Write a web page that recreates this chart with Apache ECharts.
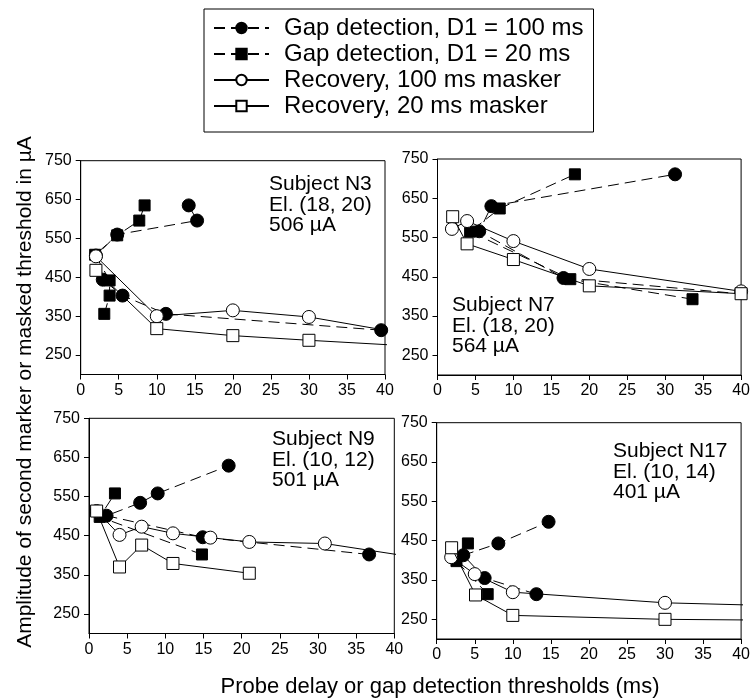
<!DOCTYPE html>
<html>
<head>
<meta charset="utf-8">
<script src="https://cdn.jsdelivr.net/npm/echarts@6/dist/echarts.min.js"></script>
<style>
html,body{margin:0;padding:0;background:#fff;}
#chart{width:753px;height:700px;}
</style>
</head>
<body>
<div id="chart"></div>
<script>
// ---- Data (x = probe delay / gap threshold in ms, y = amplitude in µA) ----
const seriesNames = ['Gap detection, D1 = 100 ms', 'Gap detection, D1 = 20 ms', 'Recovery, 100 ms masker', 'Recovery, 20 ms masker'];
const xTickInterval = 5;
const yTickValues = [250, 350, 450, 550, 650, 750];

const panelLabels = [
  'Subject N3\nEl. (18, 20)\n506 \u00b5A',
  'Subject N7\nEl. (18, 20)\n564 \u00b5A',
  'Subject N9\nEl. (10, 12)\n501 \u00b5A',
  'Subject N17\nEl. (10, 14)\n401 \u00b5A'
];

// Subject N3
const n3Gap100 = [[39.5,314],[11.2,356],[5.5,403],[2.9,444],[2.0,506],[4.8,560],[15.3,596],[14.2,635]];
const n3Gap20  = [[3.1,356],[3.8,403],[3.8,442],[1.9,508],[4.8,558],[7.7,596],[8.4,635]];
const n3Rec100 = [[2,504],[10,350],[20,365],[30,348],[50,280]];
const n3Rec20  = [[2,468],[10,318],[20,300],[30,288],[50,266]];
// Subject N7
const n7Gap100 = [[45,398],[16.6,447],[5.5,566],[7.1,630],[31.3,711]];
const n7Gap20  = [[33.6,393],[17.5,444],[4.3,565],[8.2,624],[18.1,711]];
const n7Rec100 = [[1.9,572],[3.9,592],[10,541],[20,470],[40,413]];
const n7Rec20  = [[2.0,603],[3.9,534],[10,494],[20,427],[40,407]];
// Subject N9
const n9Gap100 = [[36.7,402],[14.9,446],[2.3,501],[6.7,534],[9,558],[18.3,629]];
const n9Gap20  = [[14.8,402],[1.4,498],[3.4,558]];
const n9Rec100 = [[1,513],[4,452],[6.9,473],[11,456],[15.9,445],[21,434],[30.9,430],[50,373]];
const n9Rec20  = [[1,513],[4,370],[6.9,426],[11,379],[21,354]];
// Subject N17
const n17Gap100 = [[13.1,314],[6.3,355],[3.5,413],[8.1,443],[14.7,498]];
const n17Gap20  = [[6.7,314],[2.6,398],[4.1,443]];
const n17Rec100 = [[1.9,408],[5,365],[10,319],[30,292],[50,282]];
const n17Rec20  = [[1.96,432],[5.1,312],[10,260],[30,250],[50,247]];

const panels = [
  [n3Gap100, n3Gap20, n3Rec100, n3Rec20],
  [n7Gap100, n7Gap20, n7Rec100, n7Rec20],
  [n9Gap100, n9Gap20, n9Rec100, n9Rec20],
  [n17Gap100, n17Gap20, n17Rec100, n17Rec20]
];

// ---- Layout ----
const FONT = '"Liberation Sans", Arial, Helvetica, sans-serif';
const grids = [
  {left: 80.7, top: 160.7, width: 304.3, height: 213.8},
  {left: 437.5, top: 159.0, width: 307.5, height: 216.0},
  {left: 89.0, top: 418.3, width: 305.3, height: 215.2},
  {left: 436.7, top: 422.7, width: 306.0, height: 216.3}
];
const labelPos = [
  {x: 269, y: 174},
  {x: 452, y: 295},
  {x: 272, y: 429},
  {x: 613, y: 441}
];

const styles = [
  {symbol: 'circle', size: 13, fill: '#000', dash: [11, 6]},
  {symbol: 'rect', size: 11, fill: '#000', dash: [11, 6]},
  {symbol: 'circle', size: 13, fill: '#fff', dash: 'solid'},
  {symbol: 'rect', size: 12, fill: '#fff', dash: 'solid'}
];

const option = {
  animation: false,
  backgroundColor: '#fff',
  textStyle: {fontFamily: FONT, color: '#000'},
  legend: {
    orient: 'vertical',
    left: 204, top: 9,
    data: seriesNames,
    itemWidth: 55, itemHeight: 13, itemGap: 2,
    padding: [7, 10, 14, 9],
    borderColor: '#000', borderWidth: 1,
    textStyle: {fontFamily: FONT, fontSize: 24, color: '#000', padding: [0,0,0,10]},
    selectedMode: false
  },
  grid: grids.map(g => Object.assign({show: true, borderColor: '#000', borderWidth: 1, backgroundColor: 'transparent'}, g)),
  xAxis: grids.map((g, i) => ({
    type: 'value', gridIndex: i, min: 0, max: 40, interval: xTickInterval,
    axisLine: {show: true, lineStyle: {color: '#000', width: 1}},
    axisTick: {show: true, length: 5, inside: false, lineStyle: {color: '#000'}},
    axisLabel: {color: '#000', fontSize: 16, fontFamily: FONT, margin: 8},
    splitLine: {show: false}
  })),
  yAxis: grids.map((g, i) => ({
    type: 'value', gridIndex: i, min: 200, max: 750,
    axisLine: {show: true, lineStyle: {color: '#000', width: 1}},
    axisTick: {show: true, length: 5, inside: false, lineStyle: {color: '#000'}, customValues: yTickValues},
    axisLabel: {color: '#000', fontSize: 16, fontFamily: FONT, margin: 9, customValues: yTickValues},
    splitLine: {show: false}
  })),
  series: [],
  graphic: []
};

panels.forEach((panel, p) => {
  panel.forEach((data, s) => {
    const st = styles[s];
    option.series.push({
      type: 'line',
      name: seriesNames[s],
      xAxisIndex: p, yAxisIndex: p,
      data: data,
      clip: true,
      symbol: st.symbol,
      symbolSize: st.size,
      showAllSymbol: true,
      lineStyle: {color: '#000', width: 1, type: st.dash},
      itemStyle: {color: st.fill, borderColor: '#000', borderWidth: 1, opacity: 1},
      emphasis: {disabled: true},
      z: 2 + s
    });
  });
  option.graphic.push({
    type: 'text', left: labelPos[p].x, top: labelPos[p].y,
    style: {text: panelLabels[p], font: '21px ' + FONT, fill: '#000', lineHeight: 20.5}
  });
});

option.graphic.push({
  type: 'text', x: 25, y: 392, rotation: Math.PI / 2,
  style: {text: 'Amplitude of second marker or masked threshold in \u00b5A', font: '21px ' + FONT, fill: '#000', align: 'center', verticalAlign: 'middle'}
});
option.graphic.push({
  type: 'text', x: 440, y: 687,
  style: {text: 'Probe delay or gap detection thresholds (ms)', font: '22px ' + FONT, fill: '#000', align: 'center', verticalAlign: 'middle'}
});

const chart = echarts.init(document.getElementById('chart'), null, {renderer: 'canvas'});
chart.setOption(option);
</script>
</body>
</html>
